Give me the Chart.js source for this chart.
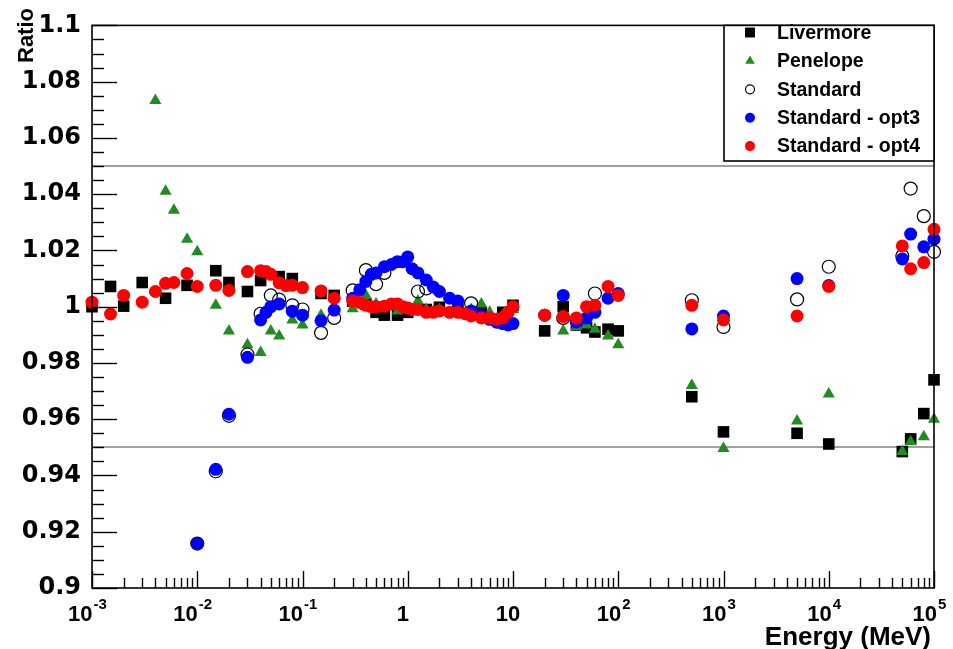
<!DOCTYPE html>
<html>
<head>
<meta charset="utf-8">
<script src="https://cdn.jsdelivr.net/npm/chart.js@4/dist/chart.umd.min.js"></script>
<style>
html,body{margin:0;padding:0;background:#fff;}
#wrap{width:953px;height:649px;}
</style>
</head>
<body>
<div id="wrap"><canvas id="c" width="953" height="649"></canvas></div>
<script>
const FONT = '"Liberation Sans", Arial, Helvetica, sans-serif';
const YFONT = '"DejaVu Sans", "Liberation Sans", sans-serif';

// ---------- data (Energy in MeV, ratio) ----------
const livermoreE = [0.001,0.0015,0.002,0.003,0.005,0.008,0.015,0.02,0.03,0.04,0.06,0.08,0.15,0.2,0.3,0.4,0.5,0.6,0.8,1,1.5,2,3,5,8,10,20,30,40,50,60,80,100,500,1000,5000,10000,50000,60000,80000,100000];
const livermoreR = [1.000,1.0072,1.0002,1.0086,1.003,1.0076,1.0128,1.0086,1.0054,1.0093,1.0107,1.0100,1.0047,1.004,1.002,1.001,0.998,0.997,0.997,0.998,0.999,0.9998,0.999,0.998,0.998,1.0005,0.9914,1.0,0.9935,0.9925,0.991,0.992,0.9914,0.968,0.9555,0.955,0.9512,0.9485,0.953,0.962,0.974];

const penelopeE = [0.004,0.005,0.006,0.008,0.01,0.015,0.02,0.03,0.04,0.05,0.06,0.08,0.1,0.15,0.3,0.4,0.5,0.6,0.8,1,1.25,1.5,2,3,4,5,6,8,10,20,30,40,50,60,80,100,500,1000,5000,10000,50000,60000,80000,100000];
const penelopeR = [1.0733,1.041,1.0343,1.024,1.0195,1.0005,0.9914,0.9865,0.9837,0.9914,0.9896,0.9953,0.9935,0.997,0.9993,1.004,1.001,1.0,0.9985,0.999,1.002,0.999,0.999,0.999,0.999,1.001,0.998,0.997,0.999,0.997,0.9914,0.993,0.9935,0.992,0.9896,0.9865,0.972,0.9496,0.9594,0.969,0.9485,0.952,0.9538,0.960];

const standardE = [0.01,0.015,0.02,0.03,0.04,0.05,0.06,0.08,0.1,0.15,0.2,0.3,0.4,0.5,0.6,1.25,1.5,4,30,60,500,1000,5000,10000,50000,60000,80000,100000];
const standardR = [0.9158,0.9415,0.9612,0.983,0.9975,1.004,1.0025,1.0005,0.999,0.9907,0.996,1.0058,1.013,1.008,1.012,1.0054,1.0065,1.0012,0.996,1.0047,1.0023,0.9928,1.0026,1.0142,1.018,1.042,1.0322,1.0195];

const opt3E = [0.01,0.015,0.02,0.03,0.04,0.045,0.05,0.06,0.08,0.1,0.15,0.2,0.3,0.35,0.4,0.45,0.5,0.6,0.7,0.8,0.9,1,1.1,1.25,1.5,1.75,2,2.5,3,4,5,6,7,8,9,10,20,30,40,50,60,80,100,500,1000,5000,10000,50000,60000,80000,100000];
const opt3R = [0.9158,0.9422,0.9618,0.982,0.9953,0.998,1.0,1.001,0.9984,0.997,0.995,0.9988,1.003,1.006,1.009,1.0115,1.012,1.0142,1.015,1.016,1.016,1.0177,1.0135,1.012,1.0095,1.007,1.0054,1.003,1.002,0.9985,0.997,0.9955,0.9945,0.994,0.9935,0.994,0.997,1.004,0.9946,0.996,0.998,1.003,1.0047,0.9921,0.9967,1.010,1.0075,1.017,1.0258,1.0213,1.024];

const opt4E = [0.001,0.0015,0.002,0.003,0.004,0.005,0.006,0.008,0.01,0.015,0.02,0.03,0.04,0.045,0.05,0.06,0.07,0.08,0.1,0.15,0.2,0.3,0.35,0.4,0.45,0.5,0.6,0.7,0.8,0.9,1,1.1,1.25,1.5,1.75,2,2.5,3,3.5,4,5,6,7,8,9,10,20,30,40,50,60,80,100,500,1000,5000,10000,50000,60000,80000,100000];
const opt4R = [1.0016,0.9974,1.004,1.0016,1.0054,1.0083,1.0086,1.0118,1.0072,1.0076,1.0058,1.0125,1.0128,1.0125,1.0115,1.0085,1.0075,1.0076,1.0068,1.0056,1.003,1.002,1.0015,1.0005,1.0,1.0,1.0002,1.001,1.001,1.0,0.9995,0.999,0.999,0.998,0.998,0.9985,0.998,0.998,0.9975,0.9967,0.996,0.996,0.9955,0.996,0.998,1.0,0.997,0.9965,0.996,1.0,1.0005,1.0072,1.004,1.0005,0.9953,0.9967,1.0072,1.0216,1.0135,1.0157,1.0275];

const seriesNames = ['Livermore','Penelope','Standard','Standard - opt3','Standard - opt4'];

// axis ticks / labels
const yTickValues = [0.9,0.92,0.94,0.96,0.98,1.0,1.02,1.04,1.06,1.08,1.1];
const xDecadeExps = [-3,-2,-1,0,1,2,3,4,5];
const refLines = [0.95, 1.05];
const xTitle = 'Energy (MeV)';
const yTitle = 'Ratio';

// ---------- chart ----------
function pts(E, R){ return E.map((e,i)=>({x:e, y:R[i]})); }

const GREEN = '#228b22';
const datasets = [
  {label:seriesNames[0], data:pts(livermoreE,livermoreR), pointStyle:'rect', pointRadius:8.2, backgroundColor:'#000', borderColor:'#000', borderWidth:0, order:5, legendR:7},
  {label:seriesNames[1], data:pts(penelopeE,penelopeR), pointStyle:'triangle', pointRadius:7, backgroundColor:GREEN, borderColor:GREEN, borderWidth:0, order:4, legendR:5.5},
  {label:seriesNames[2], data:pts(standardE,standardR), pointStyle:'circle', pointRadius:6.5, backgroundColor:'rgba(0,0,0,0)', borderColor:'#000', borderWidth:1.2, order:3, legendR:4.5},
  {label:seriesNames[3], data:pts(opt3E,opt3R), pointStyle:'circle', pointRadius:6.5, backgroundColor:'#0000ff', borderColor:'#0000ff', borderWidth:0, order:2, legendR:5},
  {label:seriesNames[4], data:pts(opt4E,opt4R), pointStyle:'circle', pointRadius:6.5, backgroundColor:'#ff0000', borderColor:'#ff0000', borderWidth:0, order:1, legendR:5},
];
datasets.forEach(d=>{ d.showLine=false; d.clip=false; d.pointHoverRadius=d.pointRadius; d.pointBorderWidth=d.borderWidth; });

const rootPlugin = {
  id:'rootStyle',
  beforeDatasetsDraw(chart){
    const ctx = chart.ctx, a = chart.chartArea, y = chart.scales.y;
    ctx.save();
    ctx.strokeStyle = '#a0a0a0';
    ctx.lineWidth = 1.8;
    refLines.forEach(v=>{
      const py = Math.round(y.getPixelForValue(v));
      ctx.beginPath(); ctx.moveTo(a.left, py); ctx.lineTo(a.right, py); ctx.stroke();
    });
    ctx.restore();
  },
  afterDatasetsDraw(chart){
    const ctx = chart.ctx, a = chart.chartArea, xs = chart.scales.x, ys = chart.scales.y;
    ctx.save();
    // frame
    ctx.strokeStyle = '#000';
    ctx.lineWidth = 1.6;
    ctx.strokeRect(a.left, a.top, a.right - a.left, a.bottom - a.top);
    // y ticks (inside)
    ctx.lineWidth = 1.4;
    for (let k = 0; k <= 40; k++) {
      const v = 0.9 + k * 0.005;
      const py = Math.round(ys.getPixelForValue(v)) + 0.5;
      const len = (k % 4 === 0) ? 25 : 12;
      ctx.beginPath(); ctx.moveTo(a.left, py); ctx.lineTo(a.left + len, py); ctx.stroke();
    }
    // x ticks (inside)
    for (let e = -3; e <= 5; e++) {
      for (let m = 1; m <= 9; m++) {
        if (e === 5 && m > 1) break;
        const v = m * Math.pow(10, e);
        const px = Math.round(xs.getPixelForValue(v)) + 0.5;
        const len = (m === 1) ? 17 : 10;
        ctx.beginPath(); ctx.moveTo(px, a.bottom); ctx.lineTo(px, a.bottom - len); ctx.stroke();
      }
    }
    // x tick labels with superscripts
    ctx.fillStyle = '#000';
    ctx.textBaseline = 'alphabetic';
    ctx.textAlign = 'left';
    const bigF = 'bold 22px ' + FONT, supF = 'bold 15px ' + FONT;
    xDecadeExps.forEach(e=>{
      const px = xs.getPixelForValue(Math.pow(10, e));
      let base, sup = '';
      if (e === 0) base = '1';
      else if (e === 1) base = '10';
      else { base = '10'; sup = String(e); }
      ctx.font = bigF; const wb = ctx.measureText(base).width;
      ctx.font = supF; const ws = sup ? ctx.measureText(sup).width : 0;
      const x0 = px - (wb + ws) / 2 - 5;
      ctx.font = bigF; ctx.fillText(base, x0, 621);
      if (sup) { ctx.font = supF; ctx.fillText(sup, x0 + wb + 1, 609); }
    });
    // axis titles
    ctx.font = 'bold 26px ' + FONT;
    ctx.textAlign = 'right';
    ctx.fillText(xTitle, 931, 645);
    ctx.save();
    ctx.translate(33, 8);
    ctx.rotate(-Math.PI / 2);
    ctx.font = 'bold 22px ' + FONT;
    ctx.textAlign = 'right';
    ctx.fillText(yTitle, 0, 0);
    ctx.restore();
    // legend box
    const lx = 724, ly = a.top, lw = a.right - 724, lh = 161 - a.top;
    ctx.fillStyle = '#fff';
    ctx.fillRect(lx, ly, lw, lh);
    ctx.strokeStyle = '#000';
    ctx.lineWidth = 1.6;
    ctx.strokeRect(lx, ly, lw, lh);
    ctx.font = 'bold 19.5px ' + FONT;
    ctx.textAlign = 'left';
    ctx.textBaseline = 'middle';
    chart.data.datasets.forEach((d, i)=>{
      const cy = 32.5 + i * 28.4;
      ctx.fillStyle = d.backgroundColor;
      ctx.strokeStyle = d.borderColor;
      ctx.lineWidth = d.borderWidth;
      Chart.helpers.drawPoint(ctx, {pointStyle:d.pointStyle, radius:d.legendR, rotation:0, borderWidth:d.borderWidth}, 750, cy);
      ctx.fillStyle = '#000';
      ctx.fillText(d.label, 777, cy + 1);
    });
    ctx.restore();
  }
};

new Chart(document.getElementById('c'), {
  type:'scatter',
  data:{datasets},
  options:{
    responsive:false,
    animation:false,
    devicePixelRatio:1,
    layout:{padding:{left:0, right:19, top:19, bottom:0}},
    plugins:{legend:{display:false}, tooltip:{enabled:false}},
    scales:{
      x:{
        type:'logarithmic', min:1e-3, max:1e5,
        grid:{display:false, drawTicks:false},
        border:{display:false},
        ticks:{display:false},
        afterFit:s=>{ s.height = 61; }
      },
      y:{
        type:'linear', min:0.9, max:1.1,
        grid:{display:false, drawTicks:false},
        border:{display:false},
        afterBuildTicks:s=>{ s.ticks = yTickValues.map(v=>({value:v})); },
        ticks:{
          color:'#000', padding:11,
          font:{family:YFONT, size:24, weight:'bold'},
          callback:v=>String(+(+v).toFixed(2))
        },
        afterFit:s=>{ s.width = 92; }
      }
    }
  },
  plugins:[rootPlugin]
});
</script>
</body>
</html>
